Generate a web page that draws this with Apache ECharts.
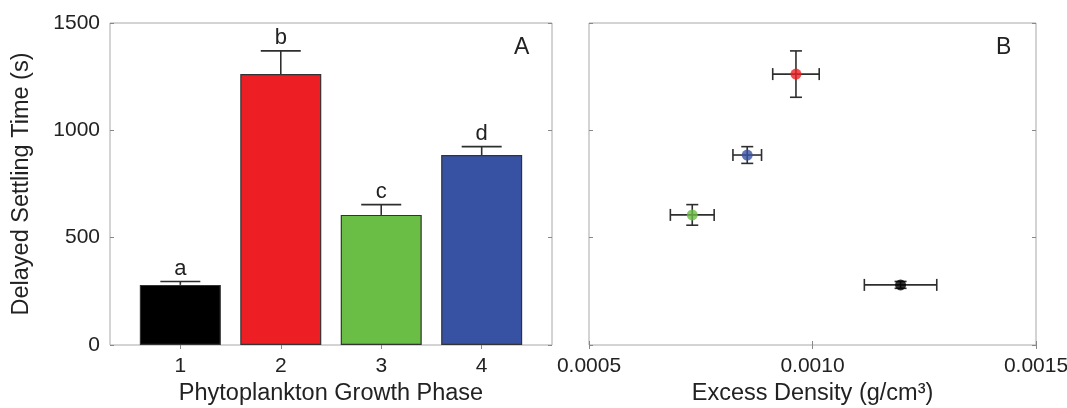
<!DOCTYPE html>
<html>
<head>
<meta charset="utf-8">
<script src="https://cdn.jsdelivr.net/npm/echarts@6/dist/echarts.min.js"></script>
<style>
  html, body { margin: 0; padding: 0; background: #fff; }
  #main { width: 1067px; height: 408px; }
</style>
</head>
<body>
<div id="main"></div>
<script>
// data
var phases = [1, 2, 3, 4];
var settleTime = [280, 1262, 606, 885];          // s
var settleErr = [16, 108, 48, 39];
var groupLetters = ['a', 'b', 'c', 'd'];
var phaseColors = ['#000000', '#ed1f24', '#6abd45', '#3852a3'];
var density = [0.001197, 0.000963, 0.000731, 0.000854];   // g/cm3
var densityErr = [0.000081, 0.000052, 0.000049, 0.000032];

var FONT = '"Liberation Sans", Arial, Helvetica, sans-serif';
var ERR = '#2e2e2e';
var FRAME = '#a8a8a8';

var chart = echarts.init(document.getElementById('main'));

// bar error bars + significance letters (panel A)
function renderBarErr(params, api) {
    var x = api.value(0), y = api.value(1), e = api.value(2);
    var base = api.coord([x, y]);
    var top = api.coord([x, y + e]);
    var half = 20;
    return {
        type: 'group',
        children: [
            { type: 'line', shape: { x1: base[0], y1: base[1], x2: top[0], y2: top[1] }, style: { stroke: ERR, lineWidth: 1.6 } },
            { type: 'line', shape: { x1: top[0] - half, y1: top[1], x2: top[0] + half, y2: top[1] }, style: { stroke: ERR, lineWidth: 1.6 } },
            { type: 'text', x: top[0], y: top[1] - 13, style: { text: groupLetters[params.dataIndex], align: 'center', verticalAlign: 'middle', fontSize: 22, fontFamily: FONT, fill: '#222' } }
        ]
    };
}

// x and y error bars (panel B)
function renderXYErr(params, api) {
    var x = api.value(0), y = api.value(1), ex = api.value(2), ey = api.value(3);
    var l = api.coord([x - ex, y]), r = api.coord([x + ex, y]);
    var t = api.coord([x, y + ey]), b = api.coord([x, y - ey]);
    var c = 6;
    var st = { stroke: ERR, lineWidth: 1.6 };
    return {
        type: 'group',
        children: [
            { type: 'line', shape: { x1: l[0], y1: l[1], x2: r[0], y2: r[1] }, style: st },
            { type: 'line', shape: { x1: l[0], y1: l[1] - c, x2: l[0], y2: l[1] + c }, style: st },
            { type: 'line', shape: { x1: r[0], y1: r[1] - c, x2: r[0], y2: r[1] + c }, style: st },
            { type: 'line', shape: { x1: t[0], y1: t[1], x2: b[0], y2: b[1] }, style: st },
            { type: 'line', shape: { x1: t[0] - c, y1: t[1], x2: t[0] + c, y2: t[1] }, style: st },
            { type: 'line', shape: { x1: b[0] - c, y1: b[1], x2: b[0] + c, y2: b[1] }, style: st }
        ]
    };
}

function tickAxis(extra) {
    var base = {
        axisLine: { show: false },
        axisTick: { show: true, inside: true, length: 4, lineStyle: { color: '#888' } },
        axisLabel: { show: false },
        splitLine: { show: false }
    };
    return Object.assign(base, extra);
}

var labelStyle = { color: '#222', fontSize: 21, fontFamily: FONT };
var nameStyle = { color: '#222', fontSize: 23.5, fontFamily: FONT };

var option = {
    animation: false,
    grid: [
        { left: 110, top: 23, width: 442, height: 322, outerBoundsMode: 'none', show: true, borderColor: FRAME, borderWidth: 1 },
        { left: 589, top: 23, width: 447, height: 322, outerBoundsMode: 'none', show: true, borderColor: FRAME, borderWidth: 1 }
    ],
    xAxis: [
        tickAxis({
            type: 'value', gridIndex: 0, min: 0.3, max: 4.7, position: 'bottom',
            axisLabel: { show: true, customValues: phases, margin: 11, textStyle: labelStyle },
            axisTick: { show: true, inside: true, length: 4, customValues: phases, lineStyle: { color: '#888' } },
            name: 'Phytoplankton Growth Phase', nameLocation: 'middle', nameGap: 35, nameTextStyle: nameStyle
        }),
        tickAxis({
            type: 'value', gridIndex: 0, min: 0.3, max: 4.7, position: 'top',
            axisTick: { show: true, inside: true, length: 4, customValues: phases, lineStyle: { color: '#888' } }
        }),
        tickAxis({
            type: 'value', gridIndex: 1, min: 0.0005, max: 0.0015, interval: 0.0005, position: 'bottom',
            axisLabel: { show: true, margin: 11, textStyle: labelStyle, formatter: function (v) { return v.toFixed(4); } },
            name: 'Excess Density (g/cm\u00b3)', nameLocation: 'middle', nameGap: 35, nameTextStyle: nameStyle
        }),
        tickAxis({ type: 'value', gridIndex: 1, min: 0.0005, max: 0.0015, interval: 0.0005, position: 'top' })
    ],
    yAxis: [
        tickAxis({
            type: 'value', gridIndex: 0, min: 0, max: 1500, interval: 500, position: 'left',
            axisLabel: { show: true, margin: 10, textStyle: labelStyle, formatter: function (v) { return String(v); } },
            name: 'Delayed Settling Time (s)', nameLocation: 'middle', nameGap: 76, nameTextStyle: nameStyle
        }),
        tickAxis({ type: 'value', gridIndex: 0, min: 0, max: 1500, interval: 500, position: 'right' }),
        tickAxis({ type: 'value', gridIndex: 1, min: 0, max: 1500, interval: 500, position: 'left' }),
        tickAxis({ type: 'value', gridIndex: 1, min: 0, max: 1500, interval: 500, position: 'right' })
    ],
    series: [
        {
            type: 'bar', xAxisIndex: 0, yAxisIndex: 0, barWidth: 81,
            itemStyle: { borderColor: '#333', borderWidth: 1.2 },
            data: phases.map(function (p, i) {
                return { value: [p, settleTime[i]], itemStyle: { color: phaseColors[i] } };
            })
        },
        {
            type: 'custom', xAxisIndex: 0, yAxisIndex: 0, renderItem: renderBarErr, z: 3,
            data: phases.map(function (p, i) { return [p, settleTime[i], settleErr[i]]; })
        },
        {
            type: 'custom', xAxisIndex: 2, yAxisIndex: 2, renderItem: renderXYErr, z: 2,
            data: density.map(function (d, i) { return [d, settleTime[i], densityErr[i], settleErr[i]]; })
        },
        {
            type: 'scatter', xAxisIndex: 2, yAxisIndex: 2, symbolSize: 11, z: 4,
            data: density.map(function (d, i) {
                return { value: [d, settleTime[i]], itemStyle: { color: phaseColors[i] } };
            })
        }
    ],
    graphic: [
        { type: 'text', left: 514, top: 36, style: { text: 'A', fontSize: 23, fontFamily: FONT, fill: '#222' } },
        { type: 'text', left: 996, top: 36, style: { text: 'B', fontSize: 23, fontFamily: FONT, fill: '#222' } }
    ]
};

chart.setOption(option);
</script>
</body>
</html>
